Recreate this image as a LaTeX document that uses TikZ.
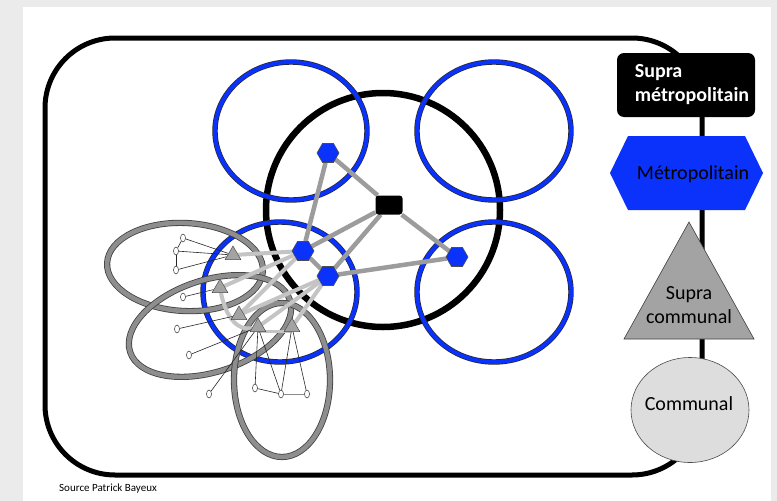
\documentclass[tikz,border=0pt]{standalone}
\usepackage{fontspec}
\setmainfont{Carlito}
\usetikzlibrary{shapes.geometric}
\pgfdeclarelayer{back}
\pgfdeclarelayer{mid}
\pgfsetlayers{back,mid,main}
\definecolor{pagegray}{HTML}{EBEBEB}
\definecolor{ringblue}{HTML}{0A32FA}
\definecolor{ringgray}{HTML}{8E8E8E}
\definecolor{linkdark}{HTML}{9C9C9C}
\definecolor{linklight}{HTML}{C4C4C4}
\definecolor{trigray}{HTML}{A3A3A3}
\definecolor{comgray}{HTML}{DDDDDD}
\begin{document}
\begin{tikzpicture}[x=1pt,y=-1pt,
  bluering/.style={draw=black!85,double=ringblue,double distance=4pt,line width=0.7pt},
  grayring/.style={draw=black!75,double=ringgray,double distance=4.6pt,line width=0.8pt},
  hexnode/.style={regular polygon,regular polygon sides=6,minimum size=22pt,inner sep=0pt,fill=ringblue,draw=black!70,line width=0.6pt},
  trinode/.style={regular polygon,regular polygon sides=3,minimum size=18pt,inner sep=0pt,fill=trigray,draw=black!70,line width=0.5pt},
  comnode/.style={ellipse,minimum width=5pt,minimum height=8pt,inner sep=0pt,fill=white,draw=black!80,line width=0.5pt},
  darklink/.style={draw=linkdark,line width=4.5pt},
  lightlink/.style={draw=linklight,line width=4pt},
  thinlink/.style={draw=black!85,line width=0.6pt},
  legtext/.style={font=\fontsize{20}{24}\selectfont,inner sep=0pt},
]
\useasboundingbox (0,0) rectangle (777,501);
\begin{pgfonlayer}{back}
\fill[pagegray] (0,0) rectangle (777,501);
\fill[white] (23,7) rectangle (771,501);
% outer frame
\draw[line width=5pt,rounded corners=70pt] (45,38) rectangle (702,475);
% black metropolitan circle
\draw[line width=6.5pt] (383,210) circle [radius=117];
% blue rings
\draw[bluering] (291,131) ellipse [x radius=76,y radius=69];
\draw[bluering] (494,131) ellipse [x radius=77,y radius=69];
\draw[bluering] (280,292) ellipse [x radius=77,y radius=70];
\draw[bluering] (494,292) ellipse [x radius=77,y radius=70];
% gray rings
\draw[grayring,rotate around={-3:(185,267)}] (185,267) ellipse [x radius=78,y radius=44];
\draw[grayring,rotate around={18:(210,326)}] (210,326) ellipse [x radius=84,y radius=46];
\draw[grayring] (282,380) ellipse [x radius=48,y radius=77];
\end{pgfonlayer}

% centre node
\node[fill=black,rounded corners=3pt,minimum width=27pt,minimum height=19pt,inner sep=0pt] (sq) at (389,205) {};
% hexagons
\node[hexnode] (h1) at (328,153) {};
\node[hexnode] (h2) at (303,251) {};
\node[hexnode] (h3) at (328,276) {};
\node[hexnode] (h4) at (457,257) {};
% triangles
\node[trinode] (t1) at (233,255) {};
\node[trinode] (t2) at (220,288) {};
\node[trinode] (t3) at (239,315) {};
\node[trinode] (t4) at (258,327) {};
\node[trinode] (t5) at (292,327) {};
% communal nodes
\node[comnode] (c1) at (183,238) {};
\node[comnode] (c2) at (176,251) {};
\node[comnode] (c3) at (176,270) {};
\node[comnode] (c4) at (183,297) {};
\node[comnode] (c5) at (177,329) {};
\node[comnode] (c6) at (189,355) {};
\node[comnode] (c7) at (209,394) {};
\node[comnode] (c8) at (255,388) {};
\node[comnode] (c9) at (281,394) {};
\node[comnode] (c10) at (307,394) {};

\begin{pgfonlayer}{mid}
\draw[darklink] (h1) -- (sq);
\draw[darklink] (h1) -- (h2);
\draw[darklink] (sq) -- (h2);
\draw[darklink] (sq) -- (h3);
\draw[darklink] (sq) -- (h4);
\draw[darklink] (h3) -- (h4);
\draw[darklink] (h2) -- (h3);
\draw[lightlink] (h2) -- (t1);
\draw[lightlink] (h2) -- (t2);
\draw[lightlink] (h2) -- (t3);
\draw[lightlink] (h3) -- (t3);
\draw[lightlink] (h3) -- (t4);
\draw[lightlink] (h3) -- (t5);
\draw[lightlink] (t2) .. controls (226,318) and (238,331) .. (t4);
\draw[lightlink,line width=3pt] (t4.south) -- (t5.south);
% thin links
\draw[thinlink] (c1) -- (c2);
\draw[thinlink] (c2) -- (c3);
\draw[thinlink] (c1) -- (t1);
\draw[thinlink] (c2) -- (t1);
\draw[thinlink] (c3) -- (t1);
\draw[thinlink] (c4) -- (t2);
\draw[thinlink] (c5) -- (t3);
\draw[thinlink] (c6) -- (t4);
\draw[thinlink] (c7) -- (t4);
\draw[thinlink] (c8) -- (t4);
\draw[thinlink] (c9) -- (t4);
\draw[thinlink] (c9) -- (t5);
\draw[thinlink] (c10) -- (t5);
\draw[thinlink] (c8) -- (c9);
\draw[draw=black!45,line width=0.8pt] (c9) -- (c10);
\end{pgfonlayer}

% legend
\node[fill=black,rounded corners=7pt,minimum width=138pt,minimum height=64pt,inner sep=0pt] (smbox) at (686,85) {};
\node[legtext,text=white,font=\bfseries\fontsize{20}{24}\selectfont,align=left] (smtext) at (692,85) {Supra\\métropolitain};
\coordinate (ma) at (610,173);
\coordinate (mb) at (628,136);
\coordinate (mc) at (745,136);
\coordinate (md) at (763,173);
\coordinate (me) at (745,210);
\coordinate (mf) at (628,210);
\fill[ringblue] (ma) -- (mb) -- (mc) -- (md) -- (me) -- (mf) -- cycle;
\node[legtext] (mtext) at (693,174) {Métropolitain};
\coordinate (sa) at (689,222);
\coordinate (sb) at (754,339);
\coordinate (sc) at (624,339);
\filldraw[fill=trigray,draw=black!75,line width=0.6pt] (sa) -- (sb) -- (sc) -- cycle;
\node[legtext,align=center] (stext) at (689,305) {Supra\\communal};
\node[ellipse,minimum width=118pt,minimum height=105pt,inner sep=0pt,fill=comgray,draw=black!70,line width=0.6pt] (com) at (690,410) {};
\node[legtext] (comtext) at (689,404) {Communal};
% source
\node[anchor=west,inner sep=0pt,font=\fontsize{11}{13}\selectfont] (src) at (59,489) {Source Patrick Bayeux};
\end{tikzpicture}
\end{document}
